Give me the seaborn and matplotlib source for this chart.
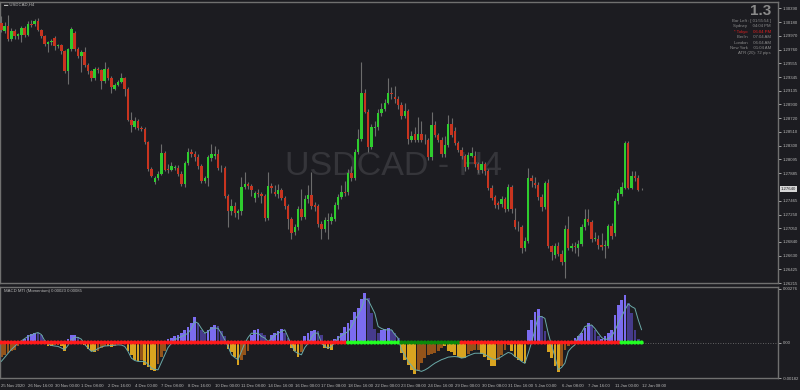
import numpy as np
import pandas as pd
import matplotlib
matplotlib.use("Agg")
import matplotlib.pyplot as plt
import seaborn as sns

# ---------------- data ----------------
opens = [1.30163,1.30051,1.30122,1.29926,1.30042,1.29961,1.29991,1.30088,1.29991,1.30153,
1.30153,1.30202,1.30062,1.29961,1.29840,1.29870,1.29931,1.29820,1.29831,1.29734,
1.29443,1.29771,1.30021,1.29771,1.29669,1.29730,1.29534,1.29432,1.29337,1.29469,
1.29447,1.29277,1.29469,1.29327,1.29167,1.29221,1.29266,1.29327,1.29156,1.28692,
1.28593,1.28673,1.28572,1.28552,1.28351,1.27948,1.27756,1.27808,1.27877,1.28190,
1.27948,1.27937,1.27963,1.27968,1.27877,1.27726,1.28039,1.28200,1.28170,1.28129,
1.27989,1.27771,1.27808,1.28114,1.28140,1.28179,1.27968,1.27959,1.27536,1.27314,
1.27385,1.27284,1.27303,1.27676,1.27717,1.27687,1.27506,1.27586,1.27566,1.27536,
1.27204,1.27696,1.27605,1.27575,1.27626,1.27506,1.27385,1.27182,1.26992,1.27072,
1.27344,1.27213,1.27484,1.27555,1.27394,1.27385,1.27113,1.27042,1.27163,1.27163,
1.27193,1.27394,1.27525,1.27596,1.27596,1.27888,1.27817,1.28209,1.28401,1.29096,
1.28813,1.28280,1.28563,1.28582,1.28794,1.28854,1.28955,1.29096,1.29046,1.29016,
1.28925,1.28753,1.28824,1.28390,1.28472,1.28390,1.28481,1.28390,1.28381,1.28129,
1.28612,1.28461,1.28390,1.28170,1.28310,1.28632,1.28532,1.28341,1.28239,1.28149,
1.27978,1.28149,1.28149,1.28019,1.27928,1.28019,1.27918,1.27666,1.27515,1.27424,
1.27415,1.27495,1.27344,1.27676,1.27173,1.27072,1.27072,1.26740,1.26850,1.27817,
1.27737,1.27706,1.27515,1.27374,1.27737,1.26770,1.26639,1.26770,1.26660,1.26529,
1.27042,1.26751,1.26770,1.26751,1.26811,1.27062,1.27193,1.27143,1.26891,1.26891,
1.26800,1.26770,1.26770,1.27083,1.26971,1.27454,1.27575,1.27666,1.28341,1.27666,
1.27838,1.27808,1.27642]
closes = [1.30062,1.30122,1.29926,1.30051,1.29961,1.30002,1.30088,1.29991,1.30153,1.30142,
1.30202,1.30062,1.29961,1.29840,1.29870,1.29891,1.29810,1.29831,1.29734,1.29438,
1.29771,1.30082,1.29771,1.29669,1.29730,1.29534,1.29432,1.29327,1.29469,1.29447,
1.29281,1.29469,1.29327,1.29186,1.29221,1.29266,1.29327,1.29156,1.28692,1.28623,
1.28673,1.28563,1.28552,1.28351,1.27948,1.27847,1.27808,1.27877,1.28190,1.27937,
1.27928,1.27989,1.27978,1.27877,1.27726,1.28039,1.28200,1.28170,1.28129,1.27989,
1.27771,1.27808,1.28125,1.28175,1.28179,1.27968,1.27959,1.27536,1.27314,1.27385,
1.27284,1.27303,1.27676,1.27717,1.27687,1.27626,1.27586,1.27566,1.27536,1.27204,
1.27696,1.27666,1.27575,1.27626,1.27506,1.27385,1.27182,1.26982,1.27072,1.27344,
1.27213,1.27484,1.27555,1.27385,1.27374,1.27113,1.27042,1.27173,1.27173,1.27223,
1.27404,1.27525,1.27596,1.27586,1.27888,1.27817,1.28209,1.28401,1.29096,1.28813,
1.28280,1.28582,1.28593,1.28794,1.28854,1.28955,1.29096,1.29085,1.29016,1.28925,
1.28753,1.28824,1.28401,1.28442,1.28390,1.28481,1.28390,1.28381,1.28129,1.28612,
1.28461,1.28390,1.28170,1.28310,1.28632,1.28461,1.28341,1.28239,1.28149,1.27978,
1.28159,1.28190,1.28019,1.27928,1.28019,1.27918,1.27666,1.27506,1.27394,1.27394,
1.27495,1.27344,1.27676,1.27333,1.27072,1.27062,1.26740,1.26850,1.27817,1.27767,
1.27706,1.27515,1.27374,1.27737,1.26770,1.26690,1.26770,1.26660,1.26529,1.27042,
1.26751,1.26770,1.26760,1.26811,1.27062,1.27193,1.27143,1.26880,1.26902,1.26790,
1.26760,1.26790,1.27083,1.26932,1.27465,1.27586,1.27676,1.28341,1.27666,1.27847,
1.27808,1.27635,1.27646]
highs = [1.30273,1.30183,1.30288,1.30092,1.30077,1.30017,1.30122,1.30122,1.30198,1.30213,
1.30228,1.30243,1.30077,1.29987,1.29896,1.29926,1.29971,1.29851,1.29851,1.29760,
1.29790,1.30107,1.30047,1.29805,1.29760,1.29805,1.29564,1.29458,1.29503,1.29503,
1.29473,1.29579,1.29503,1.29367,1.29247,1.29307,1.29413,1.29352,1.29186,1.28809,
1.28733,1.28703,1.28597,1.28582,1.28371,1.27978,1.27842,1.27918,1.28326,1.28220,
1.28024,1.28054,1.28008,1.28008,1.27918,1.28069,1.28265,1.28250,1.28220,1.28175,
1.28024,1.27842,1.28159,1.28326,1.28295,1.28250,1.28008,1.27993,1.27571,1.27495,
1.27450,1.27344,1.27827,1.27903,1.27752,1.27722,1.27616,1.27646,1.27601,1.27571,
1.27903,1.27737,1.27706,1.27722,1.27661,1.27540,1.27420,1.27223,1.27118,1.27389,
1.27646,1.27555,1.27706,1.27903,1.27450,1.27420,1.27163,1.27223,1.27284,1.27284,
1.27450,1.27571,1.27706,1.27767,1.27948,1.27993,1.28250,1.28552,1.29568,1.29156,
1.28854,1.28628,1.28673,1.28854,1.28945,1.29005,1.29337,1.29186,1.29201,1.29050,
1.28960,1.28945,1.28854,1.28522,1.28582,1.28733,1.28673,1.28477,1.28416,1.28809,
1.28673,1.28492,1.28431,1.28446,1.28763,1.28718,1.28582,1.28371,1.28280,1.28175,
1.28205,1.28280,1.28220,1.28054,1.28069,1.28054,1.27948,1.27706,1.27555,1.27465,
1.27540,1.27525,1.27722,1.27706,1.27355,1.27163,1.27102,1.26921,1.27968,1.27857,
1.27827,1.27752,1.27571,1.27767,1.27797,1.26800,1.26816,1.26831,1.26710,1.27102,
1.27238,1.26816,1.26831,1.26861,1.27118,1.27333,1.27333,1.27178,1.26997,1.26951,
1.26982,1.26861,1.27118,1.27133,1.27510,1.27646,1.27752,1.28371,1.28371,1.27918,
1.27918,1.27857,1.27661]
lows = [1.30032,1.30017,1.29896,1.29896,1.29926,1.29926,1.29881,1.29956,1.29971,1.30107,
1.30122,1.30047,1.29941,1.29820,1.29730,1.29836,1.29760,1.29790,1.29700,1.29413,
1.29232,1.29745,1.29745,1.29639,1.29428,1.29503,1.29398,1.29292,1.29307,1.29413,
1.29156,1.29247,1.29307,1.29096,1.29141,1.29201,1.29247,1.29050,1.28673,1.28507,
1.28552,1.28537,1.28522,1.28326,1.27918,1.27827,1.27722,1.27782,1.27857,1.27918,
1.27888,1.27918,1.27933,1.27842,1.27691,1.27676,1.28008,1.28129,1.28069,1.27948,
1.27737,1.27737,1.27691,1.28069,1.28099,1.27933,1.27903,1.27510,1.27072,1.27253,
1.27223,1.27193,1.27253,1.27646,1.27646,1.27540,1.27450,1.27525,1.27435,1.27163,
1.27178,1.27586,1.27540,1.27510,1.27480,1.27344,1.27042,1.26880,1.26951,1.27027,
1.27178,1.27193,1.27435,1.27344,1.27314,1.27072,1.26891,1.26997,1.26891,1.27118,
1.27163,1.27344,1.27495,1.27540,1.27555,1.27767,1.27782,1.28175,1.28371,1.28794,
1.28209,1.28250,1.28446,1.28537,1.28748,1.28824,1.28930,1.29005,1.28945,1.28854,
1.28703,1.28718,1.28330,1.28356,1.28356,1.28356,1.28356,1.28326,1.28084,1.28084,
1.28431,1.28356,1.28129,1.28129,1.28280,1.28431,1.28310,1.28205,1.28099,1.27918,
1.27948,1.28129,1.27978,1.27888,1.27888,1.27857,1.27631,1.27480,1.27359,1.27333,
1.27374,1.27299,1.27314,1.27284,1.27042,1.27012,1.26665,1.26695,1.26816,1.27676,
1.27661,1.27480,1.27314,1.27344,1.26740,1.26559,1.26589,1.26619,1.26483,1.26287,
1.26710,1.26695,1.26665,1.26619,1.26770,1.27027,1.27102,1.26831,1.26846,1.26725,
1.26710,1.26589,1.26740,1.26891,1.26936,1.27420,1.27540,1.27646,1.27646,1.27646,
1.27767,1.27616,1.27631]

# MACD MTI histogram and signal, in units of 1e-5
hist_pts = [-75,-66,-56,-46,-36,-20,10,20,36,46,51,49,36,15,-17,-20,-12,-14,-20,-41,
17,37,38,27,10,-12,-34,-46,-51,-41,-29,-17,-20,-23,-17,-10,-5,-10,-46,-63,
-88,-97,-92,-114,-126,-143,-148,-109,-75,-46,17,24,31,39,51,65,82,102,129,99,
65,51,65,82,88,85,61,31,-34,-51,-75,-114,-88,-63,-41,39,65,68,51,39,
-10,39,51,61,68,48,22,-29,-46,-75,-51,31,48,61,64,59,39,-29,-34,-37,
17,31,48,82,102,116,158,175,221,256,226,150,68,48,65,68,72,65,48,22,
-55,-88,-114,-140,-160,-148,-106,-80,-63,-61,-55,-46,-29,-20,-41,-51,-63,-72,-80,-82,
-61,-46,-37,-36,-61,-72,-88,-119,-123,-88,-63,-36,-15,-41,-72,-88,-97,-107,65,116,
158,170,138,61,-51,-82,-123,-153,-123,-37,-20,10,22,34,48,72,102,90,65,34,
17,31,48,65,142,193,220,245,201,150,65,17,5]
hist_col = ("BBBBBB" "LLLLL" "lll" "GG" "BB" "GG" "LLL" "ll" "GGGG" "BBB" "GG" "BBB"
            "GGGGG" "B" "GGGG" "BBB" "LLLLLLLLL" "lll" "LLL" "lll" "GGGG" "BBB" "LLL"
            "ll" "G" "LLLL" "ll" "GGG" "B" "LLLL" "ll" "GGG" "LLLLLLLLLL" "llll" "LLL"
            "lll" "GGGGG" "BBBBBBBB" "GGGGGGG" "BBBB" "GGGGG" "BBBB" "GGGGG" "LLLL"
            "ll" "GGGG" "BBB" "LLLLLL" "lll" "LLLLLLLL" "lllll")
signal_pts = [-97,-77,-56,-36,-20,-5,8,20,31,38,46,51,41,10,-8,-15,-18,-20,-28,-37,
-15,13,27,26,17,-10,-28,-46,-41,-31,-23,-18,-17,-15,-14,-12,-13,-20,-46,-80,
-92,-97,-97,-97,-112,-131,-138,-140,-102,-63,-26,-4,13,23,31,38,48,72,107,99,
72,48,56,73,74,73,46,14,-20,-63,-77,-88,-46,-4,26,48,46,48,31,23,
5,20,36,48,56,65,26,-12,-46,-56,-63,-26,-4,26,48,48,-4,-20,-29,-20,
0,22,36,46,56,82,116,143,175,226,218,184,150,82,72,65,65,65,41,22,
-37,-66,-97,-118,-140,-143,-148,-141,-131,-118,-106,-97,-88,-82,-75,-73,-72,-74,-80,-77,
-68,-61,-55,-55,-55,-61,-72,-82,-88,-82,-72,-61,-51,-56,-72,-82,-97,-107,-55,0,
65,133,133,124,48,-15,-72,-140,-128,-106,-46,-26,-12,31,51,82,87,90,72,48,
26,14,20,31,61,99,133,167,198,184,175,116,65]
dot_col = "R" * 104 + "g" * 16 + "D" * 18 + "R" * 48 + "g" * 7

time_labels = ["25 Nov 2020", "26 Nov 16:00", "30 Nov 00:00", "1 Dec 08:00", "2 Dec 16:00",
               "4 Dec 00:00", "7 Dec 08:00", "8 Dec 16:00", "10 Dec 00:00", "11 Dec 08:00",
               "14 Dec 16:00", "16 Dec 00:00", "17 Dec 08:00", "18 Dec 16:00", "22 Dec 00:00",
               "23 Dec 08:00", "24 Dec 16:00", "29 Dec 00:00", "30 Dec 08:00", "31 Dec 16:00",
               "5 Jan 00:00", "6 Jan 08:00", "7 Jan 16:00", "11 Jan 00:00", "12 Jan 08:00"]
price_ticks = [1.30390, 1.30180, 1.29970, 1.29760, 1.29555, 1.29345, 1.29135, 1.28930,
               1.28720, 1.28510, 1.28300, 1.28095, 1.27885, 1.27465, 1.27250, 1.27050,
               1.26840, 1.26630, 1.26425, 1.26215]
current_price = 1.27640
info_lines = [("Bar Left : [ 01:55:54 ]", "#8c8c8c"), ("Sydney     04:04 PM", "#8c8c8c"),
              ("* Tokyo     06:04 PM", "#e02020"), ("Berlin     07:04 AM", "#8c8c8c"),
              ("London     06:04 AM", "#8c8c8c"), ("New York     01:04 AM", "#8c8c8c"),
              ("ATR (20): 72 pips", "#8c8c8c")]

# ---------------- styling ----------------
BG = "#1c1c21"
TXT = "#b8b8b8"
FS = 3.1
sns.set_style("dark", {"axes.facecolor": BG, "figure.facecolor": BG})
plt.rcParams["font.family"] = ["Liberation Sans", "DejaVu Sans"]

fig = plt.figure(figsize=(8.0, 3.9), dpi=100)
fig.patch.set_facecolor(BG)
ax = fig.add_axes([0.0, 1 - 283/390, 778/800, 281/390])
axi = fig.add_axes([0.0, 1 - 378/390, 778/800, 91/390])

df = pd.DataFrame({"o": opens, "h": highs, "l": lows, "c": closes})
df["x"] = np.arange(len(df))
df["up"] = df["c"] >= df["o"]

# watermark
ax.text(0.506, 0.415, "USDCAD - H4", transform=ax.transAxes, ha="center", va="center",
        fontsize=24.5, color="#35353a", zorder=0)

# wicks
ax.vlines(df["x"], df["l"], df["h"], color="#6c6c6c", linewidth=0.8, zorder=2)
# bodies
body_bottom = np.minimum(df["o"], df["c"])
body_h = np.maximum(np.abs(df["c"] - df["o"]), 0.00005)
cols = np.where(df["up"], "#2ecc2e", "#c8341f")
ax.bar(df["x"], body_h, bottom=body_bottom, width=0.72, color=cols, linewidth=0, zorder=3)

ax.set_xlim(-0.39, 232.9)
ax.set_ylim(1.26242, 1.30485)

# ---------------- indicator ----------------
hist = np.array(hist_pts) * 1e-5
signal = np.array(signal_pts) * 1e-5
cmap = {"L": "#7b6cf0", "l": "#463b8c", "G": "#d9a420", "B": "#94541a"}
axi.bar(df["x"], hist, width=0.82, color=[cmap[c] for c in hist_col], linewidth=0, zorder=2)
axi.axhline(0, color="#7a7a7a", linewidth=0.6, linestyle=(0, (1, 2)), zorder=1)
sig_df = pd.DataFrame({"x": df["x"], "signal": signal})
sns.lineplot(data=sig_df, x="x", y="signal", ax=axi, color="#6aaaa8", linewidth=0.7, zorder=4)
dmap = {"R": "#ff1a1a", "g": "#22ff22", "D": "#0a8a0a", "r": "#a00000"}
axi.scatter(df["x"], np.zeros(len(df)), s=9, c=[dmap[c] for c in dot_col], marker="o",
            linewidths=0, zorder=5)
axi.set_xlim(-0.39, 232.9)
axi.set_ylim(-0.001805, 0.002846)
axi.set_xlabel("")
axi.set_ylabel("")

for a in (ax, axi):
    for s in a.spines.values():
        s.set_color("#707070")
        s.set_linewidth(1.0)
    a.tick_params(colors=TXT, labelsize=FS, length=2, width=0.6, pad=1.5, direction="out")
    a.yaxis.tick_right()
    a.grid(False)

ax.set_xticks([])
ax.set_yticks(price_ticks)
ax.set_yticklabels([f"{p:.5f}" for p in price_ticks])

axi.set_yticks([0.00276, 0.0, -0.00182])
axi.set_yticklabels(["0.00276", "0.00", "-0.00182"])
axi.set_xticks(np.arange(0, 193, 8))
axi.set_xticklabels(time_labels, ha="left")
axi.tick_params(axis="x", length=3, pad=1)

# current price box
ax.annotate(f"{current_price:.5f}", xy=(1.0, current_price), xycoords=("axes fraction", "data"),
            xytext=(2.0, 0), textcoords="offset points", va="center", ha="left",
            fontsize=FS, color="#1c1c21",
            bbox=dict(boxstyle="square,pad=0.2", fc="#d8d8d8", ec="none"))

# labels
fig.text(4/800, 1 - 5/390, "\u25ac USDCAD,H4", fontsize=FS, color=TXT, va="center", ha="left")
fig.text(4/800, 1 - 291/390, "MACD MTI (Momentum) 0.00023 0.00085", fontsize=FS, color=TXT,
         va="center", ha="left")
fig.text(771/800, 1 - 11/390, "1.3", fontsize=11, color="#8a8a8a", va="center", ha="right",
         fontweight="bold")
for i, (t, c) in enumerate(info_lines):
    fig.text(771/800, 1 - (21 + i * 5.4)/390, t, fontsize=FS, color=c, va="center", ha="right")

fig.savefig("out.png", dpi=100, facecolor=BG)
